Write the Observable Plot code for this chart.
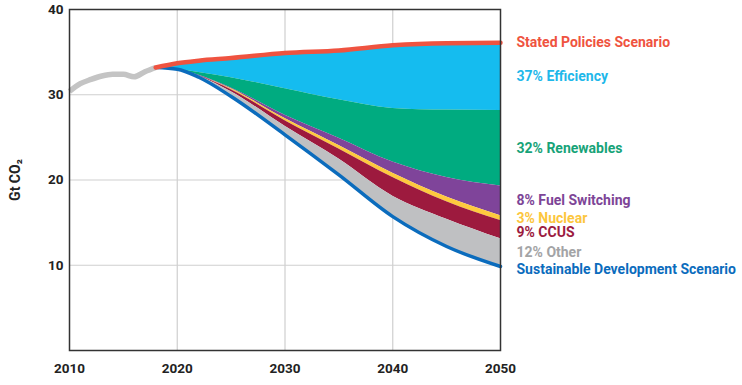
<!DOCTYPE html>
<html>
<head>
<meta charset="utf-8">
<script src="https://cdn.jsdelivr.net/npm/d3@7"></script>
<script src="https://cdn.jsdelivr.net/npm/@observablehq/plot@0.6"></script>
<style>
  html, body { margin: 0; padding: 0; background: #fff; }
  #chart svg { display: block; }
</style>
</head>
<body>
<div id="chart"></div>
<script>
// ---- Data ----
const histYears = [2010, 2011, 2012, 2013, 2014, 2015, 2016, 2017, 2018];
const historical = [30.4, 31.3, 31.8, 32.2, 32.4, 32.4, 32.1, 32.7, 33.2];

const years = [2018, 2020, 2022, 2025, 2030, 2035, 2040, 2045, 2050];
// upper edges of each wedge (Gt CO2), top to bottom
const statedPolicies   = [33.2, 33.7, 34.0, 34.3, 34.9, 35.2, 35.8, 36.05, 36.1];
const afterEfficiency  = [33.2, 33.0, 32.6, 32.0, 30.7, 29.4, 28.4, 28.2, 28.15];
const afterRenewables  = [33.2, 33.0, 32.28, 30.8, 27.6, 24.9, 22.1, 20.3, 19.3];
const afterFuelSwitch  = [33.2, 33.0, 32.24, 30.7, 27.2, 24.05, 20.8, 18.0, 15.8];
const afterNuclear     = [33.2, 33.0, 32.22, 30.6, 26.95, 23.65, 20.3, 17.45, 15.25];
const afterCCUS        = [33.2, 33.0, 32.2, 30.35, 26.3, 22.45, 18.1, 15.4, 13.1];
const sustainable      = [33.2, 33.0, 32.05, 29.8, 25.3, 20.6, 15.7, 12.2, 9.85];

const wedgeNames = ["37% Efficiency", "32% Renewables", "8% Fuel Switching", "3% Nuclear", "9% CCUS", "12% Other"];
const xTicks = [2010, 2020, 2030, 2040, 2050];
const yTicks = [10, 20, 30, 40];
const yLabel = "Gt CO₂";

// ---- Styling ----
const wedgeFill = ["#15bcef", "#00ab80", "#7f449a", "#fec93e", "#9d1a3e", "#bfc0c2"];
const wedgeText = ["#1fb8ea", "#17a378", "#7d4597", "#fcc63d", "#9c1b40", "#a3a4a6"];
const redCol = "#ef5340", blueCol = "#0b6cbd", histCol = "#c4c4c4";
const font = "Roboto, 'Liberation Sans', sans-serif";
const labelShiftPx = {"9% CCUS": 3, "Sustainable Development Scenario": 2.5};

const edges = [statedPolicies, afterEfficiency, afterRenewables, afterFuelSwitch, afterNuclear, afterCCUS, sustainable];

const wedgeRows = [];
wedgeNames.forEach((name, k) => {
  years.forEach((yr, i) => {
    wedgeRows.push({name, k, year: yr, top: edges[k][i], bottom: edges[k + 1][i]});
  });
});
const hist = histYears.map((yr, i) => ({year: yr, v: historical[i]}));
const steps = years.map((yr, i) => ({year: yr, v: statedPolicies[i]}));
const sds = years.map((yr, i) => ({year: yr, v: sustainable[i]}));

const last = years.length - 1;
const labels = [
  {text: "Stated Policies Scenario", y: statedPolicies[last], color: redCol}
];
wedgeNames.forEach((name, k) => {
  labels.push({text: name, y: (edges[k][last] + edges[k + 1][last]) / 2, color: wedgeText[k]});
});
labels.push({text: "Sustainable Development Scenario", y: sustainable[last], color: blueCol});

const chart = Plot.plot({
  width: 742,
  height: 385,
  marginLeft: 69,
  marginRight: 242,
  marginTop: 9,
  marginBottom: 35,
  style: {fontFamily: font, background: "#fff"},
  x: {domain: [2010, 2050]},
  y: {domain: [0, 40]},
  marks: [
    Plot.gridX([2020, 2030, 2040], {stroke: "#cfcfcf", strokeOpacity: 1, strokeWidth: 1.2}),
    Plot.gridY([10, 20, 30], {stroke: "#cfcfcf", strokeOpacity: 1, strokeWidth: 1.2}),
    Plot.areaY(wedgeRows, {
      x: "year", y1: "bottom", y2: "top", z: "name",
      fill: d => wedgeFill[d.k], curve: "monotone-x"
    }),
    Plot.line(hist, {x: "year", y: "v", stroke: histCol, strokeWidth: 5.5, curve: "monotone-x", strokeLinecap: "butt"}),
    Plot.line(sds, {x: "year", y: "v", stroke: blueCol, strokeWidth: 3.5, curve: "monotone-x"}),
    Plot.line(steps, {x: "year", y: "v", stroke: redCol, strokeWidth: 4.5, curve: "monotone-x"}),
    Plot.frame({stroke: "#333", strokeWidth: 1.5}),
    Plot.axisX(xTicks, {tickSize: 0, tickPadding: 13, tickFormat: d => String(d), label: null,
      fontSize: 13.5, fontWeight: 700, fill: "#222"}),
    Plot.axisY(yTicks, {tickSize: 0, tickPadding: 6, label: null,
      fontSize: 13.5, fontWeight: 700, fill: "#222"}),
    Plot.text([yLabel], {frameAnchor: "left", dx: -54, rotate: -90, textAnchor: "middle",
      fontSize: 14, fontWeight: 700, fill: "#222"}),
    Plot.text(labels, {
      x: () => 2050,
      y: d => d.y - (labelShiftPx[d.text] || 0) * 40 / 341,
      text: "text", dx: 16,
      textAnchor: "start", fill: "color", fontSize: 14, fontWeight: 700
    })
  ]
});
document.getElementById("chart").appendChild(chart);
</script>
</body>
</html>
